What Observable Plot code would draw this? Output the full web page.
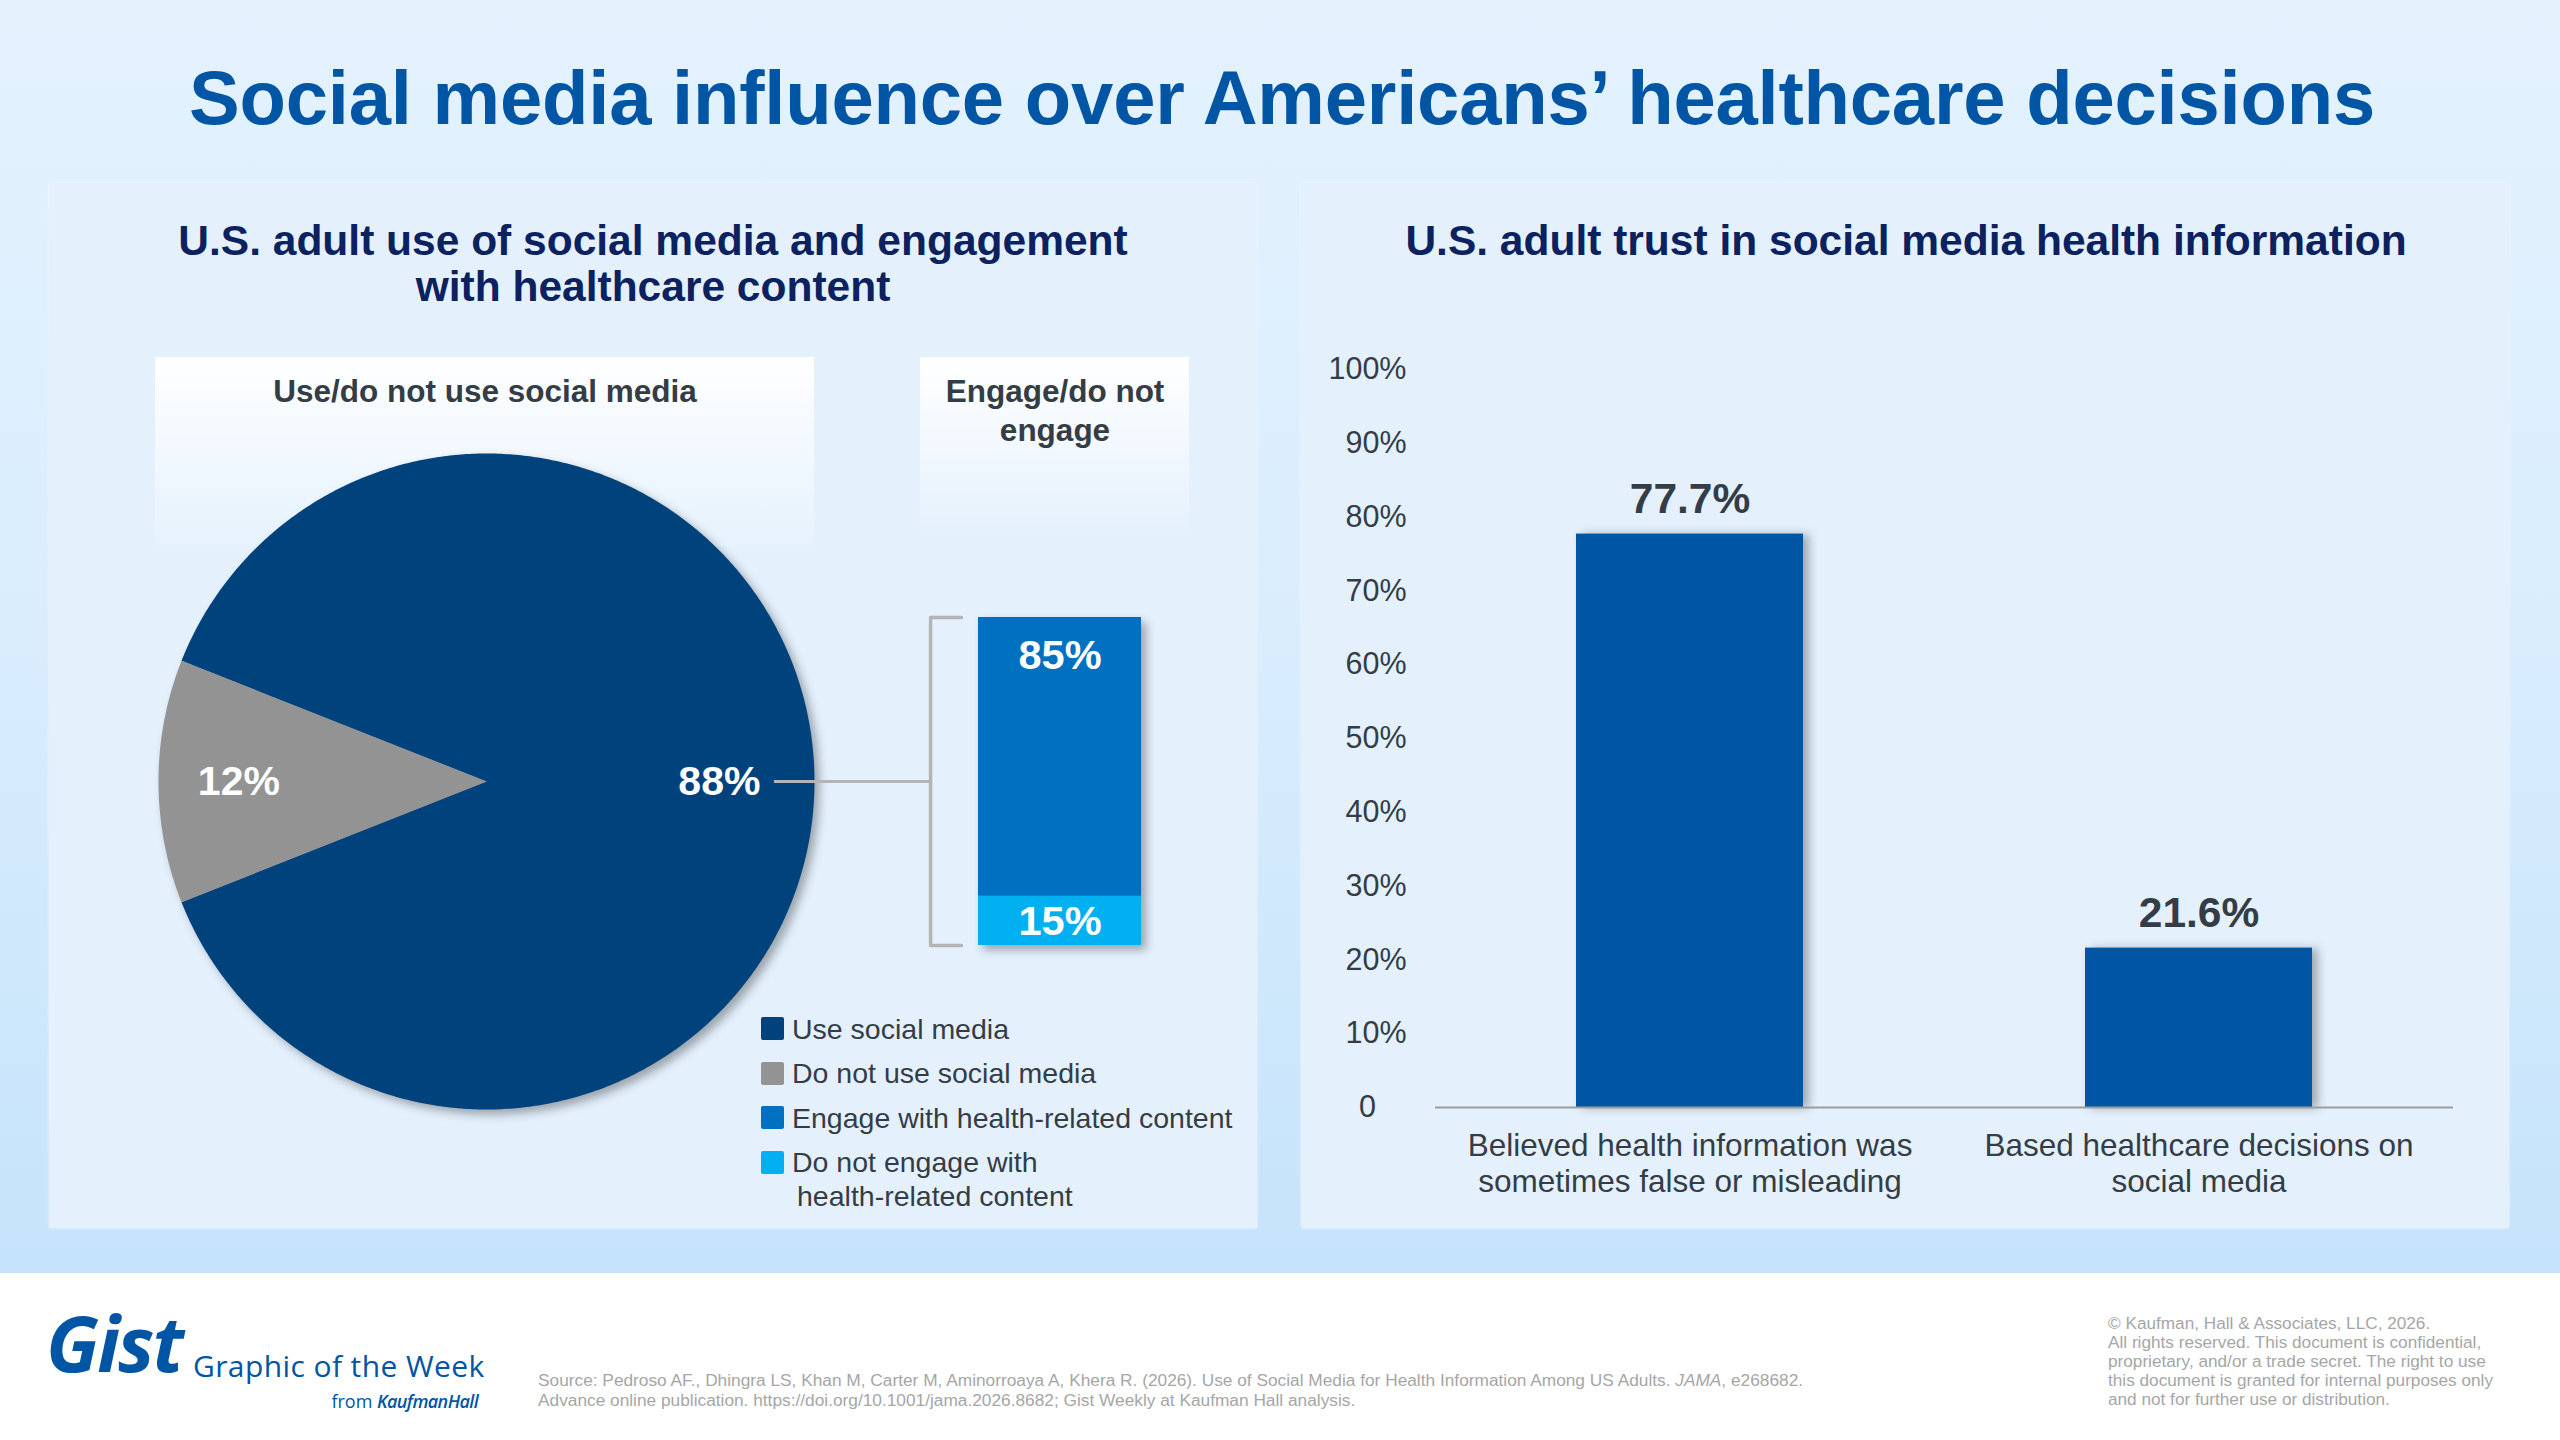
<!DOCTYPE html>
<html>
<head>
<meta charset="utf-8">
<title>Social media influence over Americans’ healthcare decisions</title>
<script src="https://cdn.jsdelivr.net/npm/d3@7"></script>
<script src="https://cdn.jsdelivr.net/npm/@observablehq/plot@0.6"></script>
<style>
  html, body { margin: 0; padding: 0; }
  body {
    width: 2560px; height: 1440px; position: relative; overflow: hidden;
    background: #ffffff;
    font-family: "Liberation Sans", Arial, Helvetica, sans-serif;
  }
  .stage {
    position: absolute; left: 0; top: 0; width: 2560px; height: 1273px;
    background: linear-gradient(to bottom, #E4F2FE 0%, #D9EDFD 50%, #C5E3FB 100%);
  }
  .panel {
    position: absolute; top: 183px; width: 1208px; height: 1045px;
    background: #E4F1FD;
    box-shadow: 0 0 3px rgba(255,255,255,0.6);
  }
  .hdr {
    position: absolute;
    background: linear-gradient(to bottom, #FFFFFF 0%, rgba(255,255,255,0.55) 45%, rgba(255,255,255,0) 100%);
  }
  .t { position: absolute; white-space: nowrap; }
  .chart { position: absolute; }
  .chart svg { display: block; overflow: visible; }
  .swatch { position: absolute; width: 23px; height: 23px; border-radius: 2px; }
</style>
</head>
<body>
<div class="stage"></div>
<div class="panel" style="left:49px"></div>
<div class="panel" style="left:1301px"></div>
<div class="hdr" style="left:155px; top:357px; width:659px; height:200px"></div>
<div class="hdr" style="left:920px; top:357px; width:269px; height:180px"></div>

<div class="chart" id="pie"></div>
<div class="chart" id="engage"></div>
<div class="chart" id="trust"></div>

<script>
// ---- Data ----------------------------------------------------------------
const pieLabels = ["Use social media", "Do not use social media"];
const pieValues = [88, 12];
const pieColors = ["#00427C", "#939393"];

const engageLabels = ["Engage with health-related content", "Do not engage with health-related content"];
const engageValues = [85, 15];
const engageColors = ["#0070C0", "#00B0F0"];

const trustCategories = [
  "Believed health information was\nsometimes false or misleading",
  "Based healthcare decisions on\nsocial media"
];
const trustValues = [77.7, 21.6];
const trustTicks = [0, 10, 20, 30, 40, 50, 60, 70, 80, 90, 100];

// ---- Text ----------------------------------------------------------------
const titleText = "Social media influence over Americans’ healthcare decisions";
const leftTitleLines = ["U.S. adult use of social media and engagement", "with healthcare content"];
const rightTitleText = "U.S. adult trust in social media health information";
const pieHeaderText = "Use/do not use social media";
const engageHeaderLines = ["Engage/do not", "engage"];
const legendRows = [
  {lines: ["Use social media"], color: pieColors[0]},
  {lines: ["Do not use social media"], color: pieColors[1]},
  {lines: ["Engage with health-related content"], color: engageColors[0]},
  {lines: ["Do not engage with", "health-related content"], color: engageColors[1]}
];
const sourceLines = [
  "Source: Pedroso AF., Dhingra LS, Khan M, Carter M, Aminorroaya A, Khera R. (2026). Use of Social Media for Health Information Among US Adults. <i>JAMA</i>, e268682.",
  "Advance online publication. https://doi.org/10.1001/jama.2026.8682; Gist Weekly at Kaufman Hall analysis."
];
const copyrightLines = [
  "© Kaufman, Hall &amp; Associates, LLC, 2026.",
  "All rights reserved. This document is confidential,",
  "proprietary, and/or a trade secret. The right to use",
  "this document is granted for internal purposes only",
  "and not for further use or distribution."
];

const SANS = "'Liberation Sans', Arial, Helvetica, sans-serif";
const OPEN = "'Open Sans', 'Liberation Sans', sans-serif";
const ink = "#343D46";

// Places a line of text so that its baseline sits at `base`.
function put(html, o) {
  const el = document.createElement("div");
  el.className = "t";
  el.innerHTML = html;
  const open = o.family === OPEN;
  const k = open ? 0.888 : 0.8465;
  Object.assign(el.style, {
    left: o.x + "px",
    top: (o.base - k * o.size) + "px",
    fontSize: o.size + "px",
    lineHeight: o.size + "px",
    fontWeight: o.weight || 400,
    fontStyle: o.italic ? "italic" : "normal",
    color: o.color || ink,
    fontFamily: o.family || SANS,
    letterSpacing: (o.ls || 0) + "px"
  });
  if (o.anchor === "middle") el.style.transform = "translateX(-50%)";
  if (o.anchor === "end") el.style.transform = "translateX(-100%)";
  document.body.appendChild(el);
  return el;
}

// ---- Headings ------------------------------------------------------------
put(titleText, {x: 1282, base: 124, size: 76, weight: 700, color: "#0055A5", anchor: "middle", ls: -0.2});
leftTitleLines.forEach((s, i) => put(s, {x: 653, base: 256 + i * 46, size: 42.5, weight: 700, color: "#0B2160", anchor: "middle"}));
put(rightTitleText, {x: 1906, base: 256, size: 42.5, weight: 700, color: "#0B2160", anchor: "middle"});
put(pieHeaderText, {x: 485, base: 403, size: 31.5, weight: 700, color: ink, anchor: "middle"});
engageHeaderLines.forEach((s, i) => put(s, {x: 1055, base: 403 + i * 38.5, size: 31.5, weight: 700, color: ink, anchor: "middle"}));

// ---- Pie: social media use -------------------------------------------------
const pieData = pieLabels.map((label, i) => ({label, value: pieValues[i]}));
const pieTotal = d3.sum(pieValues);
// Rotate so that the smaller share is centred at 9 o'clock.
const pieStart = 1.5 * Math.PI - (pieValues[0] + pieValues[1] / 2) / pieTotal * 2 * Math.PI;
const arcs = d3.pie().sort(null).value(d => d.value)
  .startAngle(pieStart).endAngle(pieStart + 2 * Math.PI)(pieData);

// Each slice becomes a closed polygon: centre, then points along its arc.
const slicePoints = arcs.flatMap(a => {
  const steps = Math.max(2, Math.ceil((a.endAngle - a.startAngle) / (Math.PI / 360)));
  const pts = [{label: a.data.label, x: 0, y: 0}];
  for (let i = 0; i <= steps; ++i) {
    const t = a.startAngle + (a.endAngle - a.startAngle) * i / steps;
    pts.push({label: a.data.label, x: Math.sin(t), y: Math.cos(t)});
  }
  return pts;
});
const midAngle = a => (a.startAngle + a.endAngle) / 2;
const labelRadius = a => a.data.value > 50 ? 0.71 : 0.755;

const pie = Plot.plot({
  width: 700, height: 700, margin: 22,
  x: {domain: [-1, 1], axis: null},
  y: {domain: [-1, 1], axis: null},
  color: {domain: pieLabels, range: pieColors},
  style: {background: "transparent", overflow: "visible", fontFamily: SANS},
  marks: [
    Plot.line(slicePoints, {x: "x", y: "y", z: "label", fill: "label", stroke: "none"}),
    Plot.text(arcs, {
      x: a => labelRadius(a) * Math.sin(midAngle(a)),
      y: a => labelRadius(a) * Math.cos(midAngle(a)),
      text: a => a.data.value + "%",
      fill: "white", fontSize: 41, fontWeight: "bold"
    })
  ]
});
pie.querySelector('g[aria-label="line"]').style.filter = "drop-shadow(5px 5px 5px rgba(0,0,0,0.32))";
const pieBox = document.getElementById("pie");
Object.assign(pieBox.style, {left: "136px", top: "431px"});
pieBox.appendChild(pie);

// ---- Stacked column: engagement among users ------------------------------------
let acc = 0;
const engageStack = engageLabels.map((label, i) => ({label, value: engageValues[i]}))
  .reverse()
  .map(d => ({...d, y1: acc, y2: (acc += d.value)}));
const engageTotal = d3.sum(engageValues);

// Horizontal positions in column-width units (0–1 is the column itself).
const connectorFrom = -1.252, bracketX = -0.294, bracketTip = -0.104;

const engage = Plot.plot({
  width: 440, height: 400,
  marginLeft: 238, marginRight: 39, marginTop: 37, marginBottom: 35,
  x: {domain: [0, 1], axis: null},
  y: {domain: [0, engageTotal], axis: null},
  color: {domain: engageLabels, range: engageColors},
  style: {background: "transparent", overflow: "visible", fontFamily: SANS},
  marks: [
    Plot.ruleY([engageTotal / 2], {x1: connectorFrom, x2: bracketX, stroke: "#B4B4B4", strokeWidth: 3}),
    Plot.line([
      {x: bracketTip, y: engageTotal}, {x: bracketX, y: engageTotal},
      {x: bracketX, y: 0}, {x: bracketTip, y: 0}
    ], {x: "x", y: "y", stroke: "#B4B4B4", strokeWidth: 3.5}),
    Plot.rectY(engageStack, {x1: 0, x2: 1, y1: "y1", y2: "y2", fill: "label"}),
    Plot.text(engageStack, {
      filter: d => d.value >= 50,
      x: 0.5, y: "y2", dy: 38,
      text: d => d.value + "%", fill: "white", fontSize: 41.5, fontWeight: "bold"
    }),
    Plot.text(engageStack, {
      filter: d => d.value < 50,
      x: 0.5, y: d => (d.y1 + d.y2) / 2, dy: 1,
      text: d => d.value + "%", fill: "white", fontSize: 41.5, fontWeight: "bold"
    })
  ]
});
engage.querySelector('g[aria-label="rect"]').style.filter = "drop-shadow(5px 5px 5px rgba(0,0,0,0.32))";
const engageBox = document.getElementById("engage");
Object.assign(engageBox.style, {left: "740px", top: "580px"});
engageBox.appendChild(engage);

// ---- Legend --------------------------------------------------------------------
let rowBase = 1039;
legendRows.forEach(row => {
  const sw = document.createElement("div");
  sw.className = "swatch";
  Object.assign(sw.style, {left: "761px", top: (rowBase - 22) + "px", background: row.color});
  document.body.appendChild(sw);
  row.lines.forEach((s, j) => {
    put(s, {x: j ? 797 : 792, base: rowBase + j * 34, size: 28.5, color: ink});
  });
  rowBase += 44.5 + (row.lines.length - 1) * 34;
});

// ---- Bar chart: trust in social media health information ----------------------
const trustData = trustCategories.map((category, i) => ({category, value: trustValues[i]}));

const trust = Plot.plot({
  width: 1208, height: 900,
  marginLeft: 134, marginRight: 56, marginTop: 39, marginBottom: 123,
  x: {domain: trustCategories, paddingInner: 0.554, paddingOuter: 0.277, label: null},
  y: {domain: [0, 100], label: null},
  style: {background: "transparent", overflow: "visible", fontFamily: SANS, color: ink},
  marks: [
    Plot.axisY({
      ticks: trustTicks, tickSize: 0, tickPadding: 29, label: null,
      tickFormat: d => d === 0 ? "0\u2003" : d + "%", fontSize: 30.5
    }),
    Plot.axisX({tickSize: 0, tickPadding: 23, label: null, fontSize: 31.5, lineHeight: 1.14}),
    Plot.barY(trustData, {x: "category", y: "value", fill: "#0056A4"}),
    Plot.ruleY([0], {stroke: "#9C9C9C", strokeWidth: 2}),
    Plot.text(trustData, {
      x: "category", y: "value", dy: -21, lineAnchor: "bottom",
      text: d => d.value.toFixed(1) + "%",
      fontSize: 42.5, fontWeight: "bold", fill: ink
    })
  ]
});
trust.querySelector('g[aria-label="bar"]').style.filter = "drop-shadow(6px 1px 5px rgba(0,0,0,0.3))";
const trustBox = document.getElementById("trust");
Object.assign(trustBox.style, {left: "1301px", top: "330px"});
trustBox.appendChild(trust);

// ---- Footer ----------------------------------------------------------------------
put("Gist", {x: 46, base: 1372, size: 77, weight: 700, italic: true, color: "#0055A5", family: OPEN, ls: -2});
put("Graphic of the Week", {x: 193, base: 1378, size: 30, color: "#0055A5", family: OPEN, ls: 0.4});
put("from <span style=\"font-style:italic;font-weight:600;letter-spacing:-0.6px\">KaufmanHall</span>",
    {x: 478, base: 1408, size: 18, color: "#0055A5", family: OPEN, anchor: "end"});
sourceLines.forEach((s, i) => put(s, {x: 538, base: 1387 + i * 20, size: 17.3, color: "#A6A6A6"}));
copyrightLines.forEach((s, i) => put(s, {x: 2108, base: 1330 + i * 18.8, size: 17.2, color: "#A6A6A6"}));
</script>
</body>
</html>
